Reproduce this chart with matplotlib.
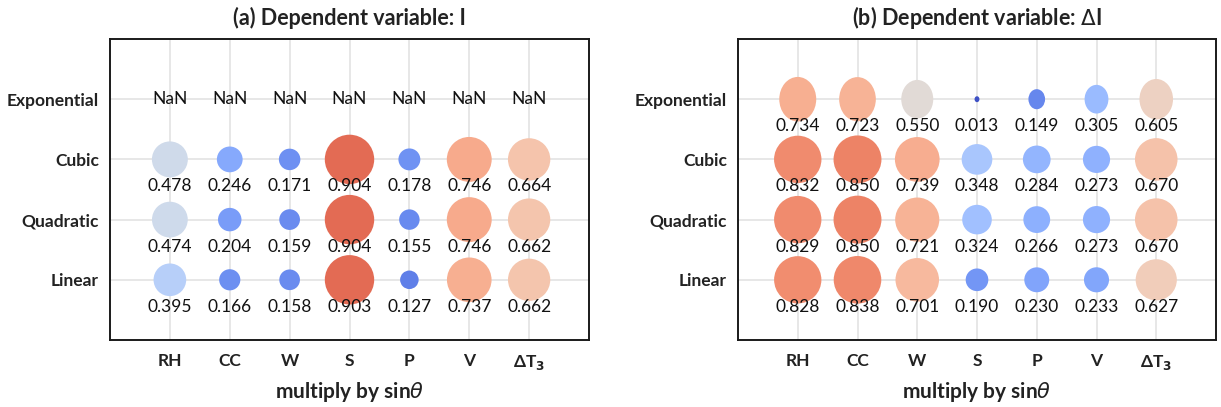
import matplotlib
matplotlib.use("Agg")
import matplotlib.pyplot as plt
import numpy as np
from matplotlib.path import Path
from matplotlib.transforms import Affine2D

plt.rcParams['font.family'] = ['Lato', 'DejaVu Sans']
plt.rcParams['mathtext.fontset'] = 'dejavusans'

variables = ['RH', 'CC', 'W', 'S', 'P', 'V', r'ΔT$_\mathbf{3}$']
models = ['Linear', 'Quadratic', 'Cubic', 'Exponential']

# (a) dependent variable I  (rows follow `models`)
nan = np.nan
vals_I = np.array([
    [0.395, 0.166, 0.158, 0.903, 0.127, 0.737, 0.662],
    [0.474, 0.204, 0.159, 0.904, 0.155, 0.746, 0.662],
    [0.478, 0.246, 0.171, 0.904, 0.178, 0.746, 0.664],
    [nan, nan, nan, nan, nan, nan, nan],
])

# (b) dependent variable delta I
vals_dI = np.array([
    [0.828, 0.838, 0.701, 0.190, 0.230, 0.233, 0.627],
    [0.829, 0.850, 0.721, 0.324, 0.266, 0.273, 0.670],
    [0.832, 0.850, 0.739, 0.348, 0.284, 0.273, 0.670],
    [0.734, 0.723, 0.550, 0.013, 0.149, 0.305, 0.605],
])

titles = ['(a) Dependent variable: I', r'(b) Dependent variable: $\Delta$I']

W, H = 1221, 407
fig = plt.figure(figsize=(W / 100, H / 100), dpi=100)

cmap = plt.get_cmap('coolwarm')
circle = Path.unit_circle()
# exponential row bubbles are drawn slightly narrower
ellipse = circle.transformed(Affine2D().scale(0.83, 1.0))

axes_px = [(110, 589), (738, 1216)]

for k, (vals, (x0, x1)) in enumerate(zip([vals_I, vals_dI], axes_px)):
    ax = fig.add_axes([x0 / W, (H - 340) / H, (x1 - x0) / W, 301 / H])
    ax.set_xlim(-1, 7)
    ax.set_ylim(-1, 4)
    ax.set_axisbelow(True)
    ax.grid(True, color='#e3e3e3', linewidth=1.2)
    for s in ax.spines.values():
        s.set_color('#1a1a1a')
        s.set_linewidth(1.4)

    for r, model in enumerate(models):
        row = vals[r]
        xs = np.arange(len(variables))
        ok = ~np.isnan(row)
        marker = ellipse if model == 'Exponential' else circle
        ax.scatter(xs[ok], np.full(ok.sum(), r), s=1400 * row[ok],
                   c=row[ok], cmap=cmap, vmin=0, vmax=1.06,
                   marker=marker, linewidths=0, zorder=3)
        for i, v in enumerate(row):
            if np.isnan(v):
                ax.text(i, r, 'NaN', ha='center', va='center',
                        fontsize=12.5, color='#111111', zorder=4)
            else:
                ax.annotate(f'{v:.3f}', (i, r), xytext=(0, -19.5),
                            textcoords='offset points', ha='center',
                            va='center', fontsize=12.5, color='#111111',
                            zorder=4)

    ax.set_xticks(range(len(variables)))
    ax.set_xticklabels(variables, fontsize=12.5, fontweight='bold',
                       color='#222222')
    ax.set_yticks(range(len(models)))
    ax.set_yticklabels(models, fontsize=12.5, fontweight='bold',
                       color='#222222')
    ax.tick_params(axis='both', length=0)
    ax.tick_params(axis='x', pad=9)
    ax.tick_params(axis='y', pad=8)
    ax.set_xlabel(r'multiply by sin$\theta$', fontsize=15, fontweight='bold',
                  color='#222222', va='center')
    ax.xaxis.set_label_coords(0.5, -0.172)
    ax.set_title(titles[k], fontsize=15.5, fontweight='bold',
                 color='#222222', pad=10)

fig.savefig('out.png', dpi=100)
